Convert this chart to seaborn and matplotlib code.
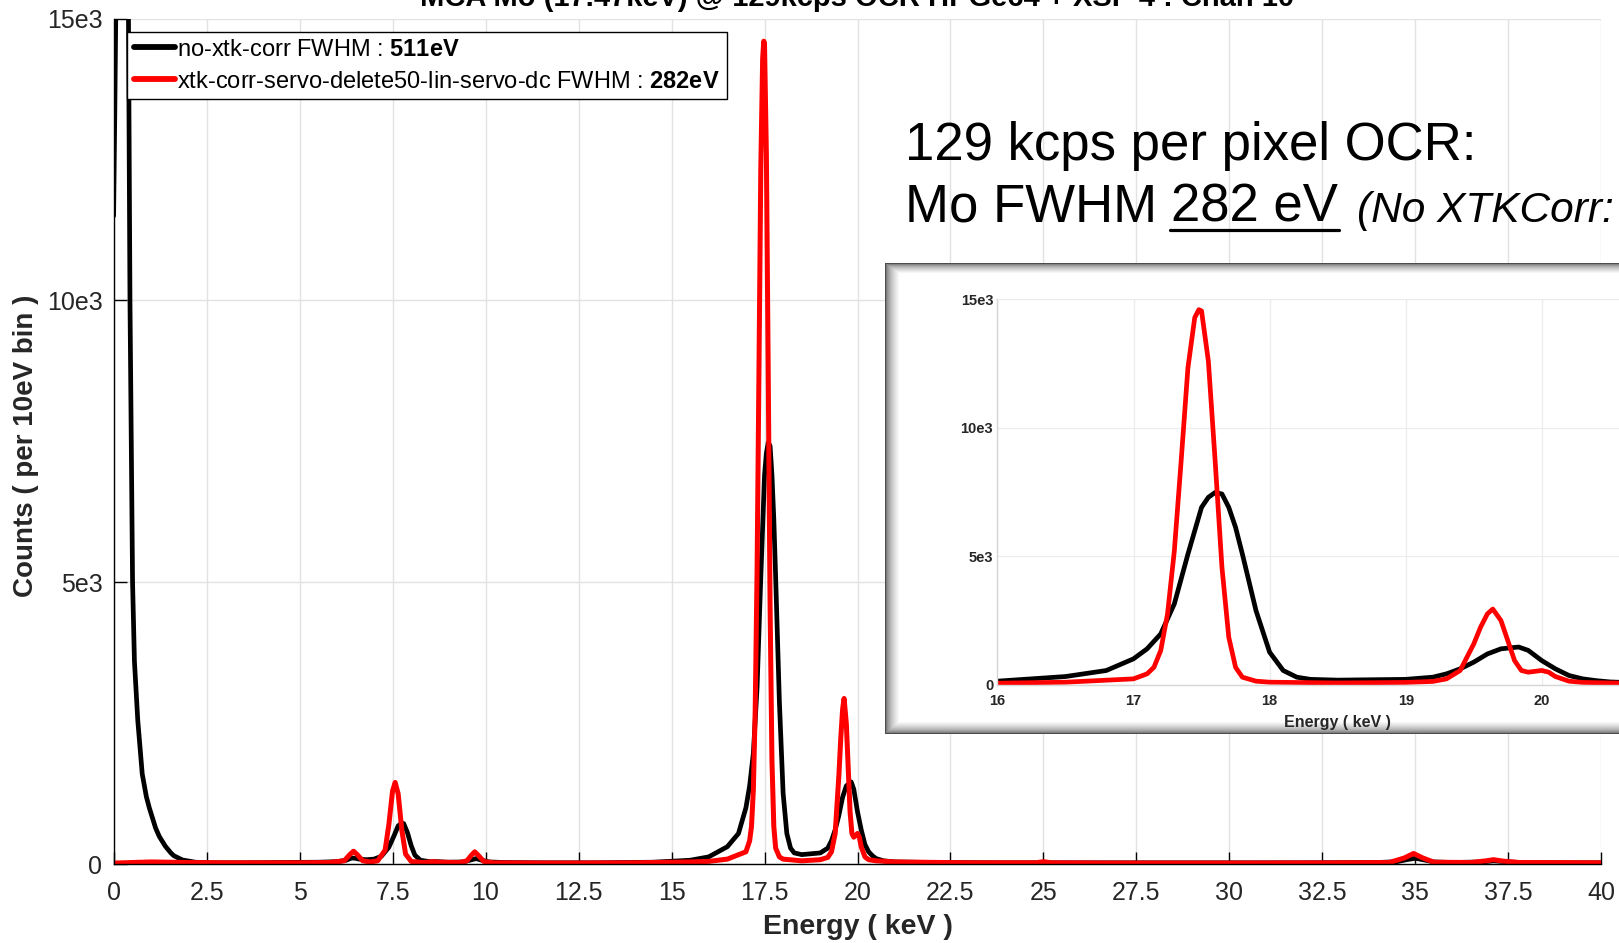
import numpy as np
import pandas as pd
import matplotlib
matplotlib.use("Agg")
import matplotlib.pyplot as plt
import seaborn as sns
from matplotlib.lines import Line2D

# ---------------- spectrum data (energy in keV, counts per 10 eV bin) ----------------
energy_nocorr = [0.00, 0.03, 0.07, 0.12, 0.20, 0.30, 0.38, 0.40, 0.44, 0.51, 0.56, 0.65,
                 0.77, 0.88, 0.96, 1.13, 1.23, 1.39, 1.54, 1.62, 1.85, 2.20, 2.60, 3.5,
                 4.5, 5.5, 6.0, 6.25, 6.4, 6.5, 6.6, 6.8, 7.0, 7.2, 7.4, 7.55, 7.65, 7.75,
                 7.8, 7.9, 8.0, 8.1, 8.25, 8.5, 8.7, 9.0, 9.4, 9.6, 9.75, 9.9, 10.1, 10.5,
                 11.5, 13.0, 14.5, 15.5, 16.0, 16.5, 16.8, 17.0, 17.1, 17.2, 17.3, 17.4,
                 17.5, 17.55, 17.6, 17.65, 17.7, 17.75, 17.8, 17.9, 18.0, 18.1, 18.2, 18.3,
                 18.5, 19.0, 19.2, 19.3, 19.4, 19.5, 19.6, 19.7, 19.83, 19.9, 20.0, 20.1,
                 20.2, 20.3, 20.4, 20.5, 20.7, 21.0, 22.0, 24.0, 26.0, 28.0, 30.0, 32.0,
                 34.0, 34.5, 34.8, 35.0, 35.2, 35.5, 36.0, 36.8, 37.1, 37.5, 38.0, 40.0]
counts_nocorr = [11500, 13200, 15800, 19000, 21000, 20000, 16500, 15000, 10000, 5000, 3600, 2550,
                 1600, 1200, 1000, 640, 490, 320, 200, 150, 75, 35, 25, 25,
                 30, 35, 45, 70, 110, 105, 90, 80, 90, 140, 300, 520, 680, 730,
                 720, 560, 330, 160, 70, 45, 45, 35, 40, 75, 100, 70, 40, 30,
                 25, 25, 35, 70, 130, 310, 545, 1000, 1390, 1970, 3140, 5080,
                 6900, 7290, 7480, 7420, 6900, 6120, 5080, 2880, 1260, 545, 285, 200,
                 170, 200, 285, 415, 610, 870, 1190, 1390, 1460, 1330, 930, 610,
                 350, 220, 150, 100, 60, 40, 30, 25, 25, 25, 25, 25,
                 30, 45, 85, 105, 80, 40, 30, 40, 60, 40, 25, 25]

energy_corr = [0.0, 0.5, 1.0, 2.0, 3.0, 4.0, 5.0, 5.8, 6.2, 6.35, 6.45, 6.55, 6.7, 6.9,
               7.1, 7.3, 7.4, 7.5, 7.57, 7.65, 7.75, 7.85, 8.0, 8.3, 8.6, 8.8, 9.3, 9.5,
               9.62, 9.71, 9.8, 9.95, 10.2, 12.0, 14.0, 15.5, 16.0, 16.5, 17.0, 17.1,
               17.15, 17.2, 17.25, 17.3, 17.35, 17.4, 17.45, 17.48, 17.5, 17.55, 17.6,
               17.65, 17.7, 17.75, 17.8, 17.9, 18.0, 18.5, 19.0, 19.2, 19.3, 19.4, 19.5,
               19.55, 19.6, 19.64, 19.7, 19.75, 19.8, 19.85, 19.9, 20.0, 20.05, 20.1,
               20.2, 20.3, 20.5, 21.0, 23.0, 24.8, 25.0, 25.2, 27.0, 30.0, 33.0, 34.3,
               34.7, 34.95, 35.2, 35.5, 36.5, 36.9, 37.1, 37.35, 37.8, 40.0]
counts_corr = [20, 30, 40, 30, 25, 25, 25, 30, 60, 170, 230, 170, 60, 40,
               60, 250, 700, 1300, 1450, 1250, 600, 180, 50, 30, 45, 35, 30, 60,
               160, 220, 160, 50, 25, 20, 25, 40, 50, 90, 220, 415,
               670, 1320, 2750, 5200, 8700, 12340, 14290, 14600, 14550, 12600, 8700,
               4560, 1840, 670, 285, 130, 90, 60, 80, 120, 220, 545, 1580,
               2230, 2750, 2940, 2490, 1710, 930, 545, 480, 545, 480, 310,
               130, 80, 60, 40, 25, 25, 45, 25, 20, 20, 25, 30,
               110, 190, 110, 35, 30, 60, 80, 55, 30, 25]

label_nocorr = r"no-xtk-corr FWHM : $\mathbf{511eV}$"
label_corr = r"xtk-corr-servo-delete50-lin-servo-dc FWHM : $\mathbf{282eV}$"

title_text = "MCA Mo (17.47keV) @ 129kcps OCR HPGe64 + XSP 4 : Chan 10"
x_label = "Energy ( keV )"
y_label = "Counts ( per 10eV bin )"

x_ticks = [0, 2.5, 5, 7.5, 10, 12.5, 15, 17.5, 20, 22.5, 25, 27.5, 30, 32.5, 35, 37.5, 40]
x_ticklabels = ["0", "2.5", "5", "7.5", "10", "12.5", "15", "17.5", "20", "22.5", "25",
                "27.5", "30", "32.5", "35", "37.5", "40"]
y_ticks = [0, 5000, 10000, 15000]
y_ticklabels = ["0", "5e3", "10e3", "15e3"]

inset_x_ticks = [16, 17, 18, 19, 20]
inset_x_ticklabels = ["16", "17", "18", "19", "20"]

note_line1 = "129 kcps per pixel OCR:"
note_line2a = "Mo FWHM"
note_line2b = "282 eV"
note_line2c = "(No XTKCorr:"

# ---------------- style ----------------
sns.set_theme(style="whitegrid")
plt.rcParams["font.family"] = ["Liberation Sans", "DejaVu Sans"]
plt.rcParams["mathtext.fontset"] = "custom"
plt.rcParams["mathtext.bf"] = "Liberation Sans:bold"
plt.rcParams["mathtext.rm"] = "Liberation Sans"

W, H = 1619, 943
fig = plt.figure(figsize=(W / 100, H / 100), dpi=100)
fig.patch.set_facecolor("white")


def px_rect(x0, y0, x1, y1):
    """Axes rectangle from pixel corners measured from the top-left."""
    return [x0 / W, 1 - y1 / H, (x1 - x0) / W, (y1 - y0) / H]


df_nocorr = pd.DataFrame({"Energy": energy_nocorr, "Counts": counts_nocorr})
df_corr = pd.DataFrame({"Energy": energy_corr, "Counts": counts_corr})

tick_color = "#262626"
grid_color = "#e2e2e2"

# ---------------- main spectrum ----------------
ax = fig.add_axes(px_rect(113.6, 18.6, 1601.4, 864.2))
ax.set_facecolor("white")
sns.lineplot(data=df_nocorr, x="Energy", y="Counts", color="black", linewidth=3.4,
             ax=ax, label=label_nocorr, estimator=None, sort=False)
sns.lineplot(data=df_corr, x="Energy", y="Counts", color="#ff0000", linewidth=3.6,
             ax=ax, label=label_corr, estimator=None, sort=False)

ax.set_xlim(0, 40)
ax.set_ylim(0, 15000)
ax.set_xticks(x_ticks)
ax.set_xticklabels(x_ticklabels)
ax.set_yticks(y_ticks)
ax.set_yticklabels(y_ticklabels)
ax.grid(True, color=grid_color, linewidth=1.0)
for side in ["top", "right"]:
    ax.spines[side].set_visible(False)
for side in ["left", "bottom"]:
    ax.spines[side].set_visible(True)
    ax.spines[side].set_color("black")
    ax.spines[side].set_linewidth(1.0)
ax.tick_params(axis="x", direction="in", length=9, width=1, color="black",
               labelsize=18, labelcolor=tick_color, pad=12, bottom=True)
ax.tick_params(axis="y", direction="in", length=9, width=1, color="black",
               labelsize=18, labelcolor=tick_color, pad=8, left=True)

ax.set_xlabel(x_label, fontsize=20.5, fontweight="bold", color=tick_color)
ax.set_ylabel(y_label, fontsize=20, fontweight="bold", color=tick_color)
ax.xaxis.set_label_coords(0.5, (864.2 - 927) / 845.6)
ax.xaxis.label.set_va("center")
ax.yaxis.set_label_coords((26 - 113.6) / 1487.8, 0.495)
ax.yaxis.label.set_va("center")

ax.set_title(title_text, fontsize=21, fontweight="bold", color="black", pad=9)

leg = ax.legend(loc="upper left", bbox_to_anchor=(127 / W, 1 - 32 / H),
                bbox_transform=fig.transFigure, borderaxespad=0, fontsize=17,
                frameon=True, fancybox=False, framealpha=1, edgecolor="black",
                borderpad=0.28, labelspacing=0.42, handlelength=1.75, handletextpad=0.1)
leg.get_frame().set_linewidth(1.0)
for h in leg.get_lines():
    h.set_linewidth(4.2)
for t in leg.get_texts():
    t.set_color("black")

# ---------------- annotation text ----------------
renderer = fig.canvas.get_renderer()
big = 38
small = 30.5
x_note = 904.5
t1 = fig.text(x_note / W, 1 - 160 / H, note_line1, fontsize=big, va="baseline", ha="left",
              color="black")
base2 = 1 - 222 / H
t2a = fig.text(x_note / W, base2, note_line2a, fontsize=big, va="baseline", ha="left",
               color="black")
bb = t2a.get_window_extent(renderer)
space_px = 0.278 * big * 100 / 72
t2b = fig.text((bb.x1 + space_px) / W, base2, note_line2b, fontsize=big, va="baseline",
               ha="left", color="black")
bb2 = t2b.get_window_extent(renderer)
ul_y = (1 - 229.5 / H)
fig.add_artist(Line2D([(bb2.x0 - 1) / W, (bb2.x1 + 1) / W], [ul_y, ul_y],
                      transform=fig.transFigure, color="black", linewidth=2.3))
t2c = fig.text((bb2.x1 + 0.36 * big * 100 / 72) / W, base2, note_line2c, fontsize=small,
               fontstyle="italic", va="baseline", ha="left", color="black")

# ---------------- inset frame with soft shaded border ----------------
fx0, fy0, fx1, fy1 = 884.8, 263.3, 1700.0, 734.0
frame_ax = fig.add_axes(px_rect(fx0, fy0, fx1, fy1), zorder=3)
fw, fh = int(fx1 - fx0), int(fy1 - fy0)
yy, xx = np.mgrid[0:fh, 0:fw]
edge = np.minimum.reduce([xx / 14.0, yy / 10.0, (fh - 1 - yy) / 12.0])
shade = np.clip(edge, 0, 1)
frame_img = 0.30 + 0.70 * shade ** 0.5
frame_ax.imshow(frame_img, cmap="gray", vmin=0, vmax=1, aspect="auto",
                interpolation="bilinear", extent=[0, fw, fh, 0])
frame_ax.set_axis_off()

# ---------------- inset zoom on the Mo K lines ----------------
inset_font = ["Liberation Sans Narrow", "Liberation Sans"]
ix0 = 997.4
kev_px = 136.1
iax = fig.add_axes(px_rect(ix0, 299.4, ix0 + 5 * kev_px, 684.5), zorder=4)
iax.set_facecolor("white")
sns.lineplot(data=df_nocorr, x="Energy", y="Counts", color="black", linewidth=3.4,
             ax=iax, estimator=None, sort=False, legend=False)
sns.lineplot(data=df_corr, x="Energy", y="Counts", color="#ff0000", linewidth=3.4,
             ax=iax, estimator=None, sort=False, legend=False)
iax.set_xlim(16, 21)
iax.set_ylim(0, 15000)
iax.set_xticks(inset_x_ticks)
iax.set_xticklabels(inset_x_ticklabels)
iax.set_yticks(y_ticks)
iax.set_yticklabels(y_ticklabels)
iax.grid(True, color="#ececec", linewidth=0.9)
for side in ["top", "right"]:
    iax.spines[side].set_visible(False)
for side in ["left", "bottom"]:
    iax.spines[side].set_visible(True)
    iax.spines[side].set_color("#d6d6d6")
    iax.spines[side].set_linewidth(1.0)
iax.tick_params(axis="both", direction="in", length=3, width=0.8, color="#444444",
                labelsize=10.5, labelcolor=tick_color)
iax.tick_params(axis="x", pad=7)
iax.tick_params(axis="y", pad=3)
for lab in iax.get_xticklabels() + iax.get_yticklabels():
    lab.set_family(inset_font)
    lab.set_fontweight("bold")
iax.set_xlabel(x_label, fontsize=11.5, fontweight="bold", family=inset_font,
               color=tick_color, labelpad=5)
iax.set_ylabel("")

fig.savefig("out.png", dpi=100, facecolor="white")
